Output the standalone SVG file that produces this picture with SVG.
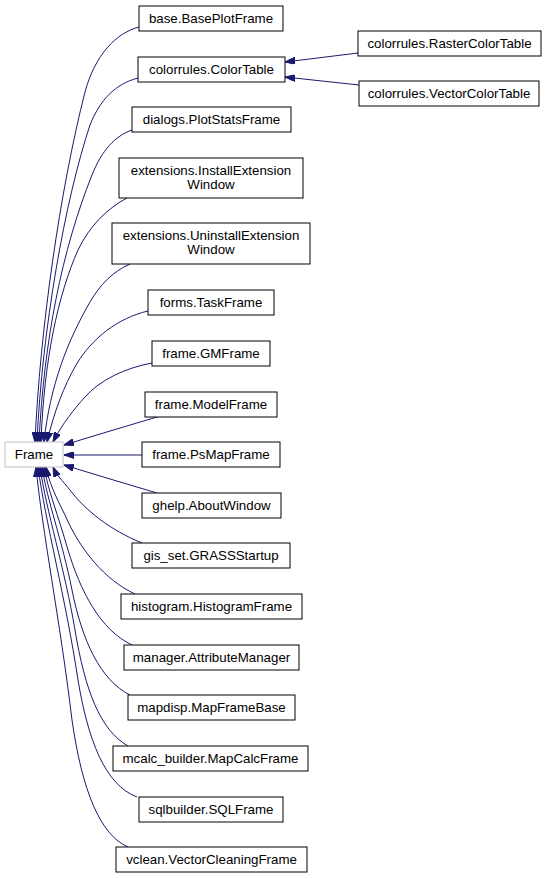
<svg xmlns="http://www.w3.org/2000/svg" width="548" height="879" viewBox="0 0 548 879">
<style>
.n rect{fill:#ffffff;stroke:#000000;stroke-width:1}
.g rect{fill:#ffffff;stroke:#bfbfbf;stroke-width:1}
text{font-family:"Liberation Sans",Arial,sans-serif;font-size:13.3px;fill:#000000;text-anchor:middle}
.e path{fill:none;stroke:#191970;stroke-width:1;marker-end:url(#ah)}
</style>
<defs>
<marker id="ah" viewBox="0 0 10 7" refX="10" refY="3.5" markerWidth="10" markerHeight="7" markerUnits="userSpaceOnUse" orient="auto">
<path d="M0,0 L10,3.5 L0,7 z" fill="#191970" stroke="#191970" stroke-width="1"/>
</marker>
</defs>
<rect x="0" y="0" width="548" height="879" fill="#ffffff"/>
<g id="edges" class="e">
<path d="M139,27 C116,33 95,55 85,92 C60,190 40,330 35,442"/>
<path d="M138,78 C115,84 100,100 90,125 C65,200 42,330 37,442"/>
<path d="M132,130 C115,136 102,150 92,175 C62,250 44,340 39,442"/>
<path d="M127,198 C108,208 90,225 78,250 C58,295 44,360 41,442"/>
<path d="M130,264 C112,272 100,285 90,302 C68,340 50,385 44,442"/>
<path d="M148,311 C118,318 92,338 76,365 C64,386 54,412 47,442"/>
<path d="M152,363 C125,368 100,380 85,397 C75,408 62,424 53,442"/>
<path d="M157,417 C130,425 100,434 64,445"/>
<path d="M142,455 L64,455"/>
<path d="M157,493 C130,485 100,476 64,465"/>
<path d="M142,543 C110,530 85,510 70,490 C62,480 57,476 53,467"/>
<path d="M135,594 C105,580 80,550 65,515 C55,495 49,482 46,467"/>
<path d="M132,645 C100,630 80,590 68,550 C58,515 48,490 44,467"/>
<path d="M130,695 C100,680 82,640 72,590 C62,540 47,500 42,467"/>
<path d="M128,746 C100,730 85,690 75,630 C65,570 46,510 40,467"/>
<path d="M137,797 C105,785 88,740 78,680 C66,600 45,520 38,467"/>
<path d="M128,847 C100,835 82,790 72,720 C60,620 42,530 36,467"/>
<path d="M358,53 L285,62"/>
<path d="M359,85 L285,77"/>
</g>
<g id="Frame" class="g"><rect x="5" y="442" width="58" height="25"/><text x="34" y="459">Frame</text></g>
<g id="base" class="n"><rect x="139" y="6" width="144" height="25"/><text x="211" y="23">base.BasePlotFrame</text></g>
<g id="colortable" class="n"><rect x="138" y="57" width="147" height="25"/><text x="211.5" y="74">colorrules.ColorTable</text></g>
<g id="rastercolortable" class="n"><rect x="358" y="31" width="183" height="25"/><text x="449.5" y="48">colorrules.RasterColorTable</text></g>
<g id="vectorcolortable" class="n"><rect x="359" y="81" width="180" height="25"/><text x="449" y="98">colorrules.VectorColorTable</text></g>
<g id="plotstats" class="n"><rect x="132" y="107" width="159" height="25"/><text x="211.5" y="124">dialogs.PlotStatsFrame</text></g>
<g id="install" class="n"><rect x="119" y="158" width="184" height="40"/><text x="211" y="175">extensions.InstallExtension</text><text x="211" y="189">Window</text></g>
<g id="uninstall" class="n"><rect x="112" y="223" width="198" height="41"/><text x="211" y="240">extensions.UninstallExtension</text><text x="211" y="254">Window</text></g>
<g id="taskframe" class="n"><rect x="148" y="290" width="126" height="25"/><text x="211" y="307">forms.TaskFrame</text></g>
<g id="gmframe" class="n"><rect x="152" y="341" width="118" height="25"/><text x="211" y="358">frame.GMFrame</text></g>
<g id="modelframe" class="n"><rect x="145" y="392" width="132" height="25"/><text x="211" y="409">frame.ModelFrame</text></g>
<g id="psmapframe" class="n"><rect x="142" y="442" width="138" height="25"/><text x="211" y="459">frame.PsMapFrame</text></g>
<g id="aboutwindow" class="n"><rect x="142" y="493" width="139" height="25"/><text x="211.5" y="510">ghelp.AboutWindow</text></g>
<g id="grassstartup" class="n"><rect x="132" y="543" width="158" height="25"/><text x="211" y="560">gis_set.GRASSStartup</text></g>
<g id="histogramframe" class="n"><rect x="121" y="594" width="181" height="25"/><text x="211.5" y="611">histogram.HistogramFrame</text></g>
<g id="attributemanager" class="n"><rect x="124" y="645" width="175" height="25"/><text x="211.5" y="662">manager.AttributeManager</text></g>
<g id="mapframebase" class="n"><rect x="128" y="695" width="167" height="25"/><text x="211.5" y="712">mapdisp.MapFrameBase</text></g>
<g id="mapcalcframe" class="n"><rect x="113" y="746" width="195" height="25"/><text x="210.5" y="763">mcalc_builder.MapCalcFrame</text></g>
<g id="sqlframe" class="n"><rect x="139" y="797" width="144" height="25"/><text x="211" y="814">sqlbuilder.SQLFrame</text></g>
<g id="vectorcleaningframe" class="n"><rect x="116" y="847" width="191" height="25"/><text x="211.5" y="864">vclean.VectorCleaningFrame</text></g>
</svg>
